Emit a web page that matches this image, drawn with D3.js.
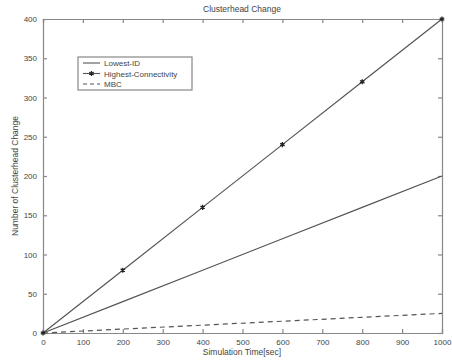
<!DOCTYPE html>
<html>
<head>
<meta charset="utf-8">
<script src="https://cdn.jsdelivr.net/npm/d3@7"></script>
<style>
body { margin: 0; background: #fff; }
text { font-family: "Liberation Sans", Arial, sans-serif; fill: #444; }
</style>
</head>
<body>
<script>
var times = [0, 200, 400, 600, 800, 1000];
var lowestId = [0, 40, 80, 120, 160, 200];
var highestConn = [0, 80, 160, 240, 320, 400];
var mbc = [0, 5, 10, 15, 20, 25];
var xTicks = [0, 100, 200, 300, 400, 500, 600, 700, 800, 900, 1000];
var yTicks = [0, 50, 100, 150, 200, 250, 300, 350, 400];

var width = 452, height = 360;
var margin = {left: 43, right: 10, top: 19, bottom: 27};
var svg = d3.select("body").append("svg").attr("width", width).attr("height", height);

var x = d3.scaleLinear().domain([0, 1000]).range([margin.left, width - margin.right]);
var y = d3.scaleLinear().domain([0, 400]).range([height - margin.bottom, margin.top]);

var frame = "#888";
// axes with inward ticks
var gx = svg.append("g").attr("transform", "translate(0," + y(0) + ")")
  .call(d3.axisBottom(x).tickValues(xTicks).tickSize(-4).tickPadding(6).tickFormat(d3.format("d")));
var gxt = svg.append("g").attr("transform", "translate(0," + y(400) + ")")
  .call(d3.axisTop(x).tickValues(xTicks).tickSize(-4).tickFormat(""));
var gy = svg.append("g").attr("transform", "translate(" + x(0) + ",0)")
  .call(d3.axisLeft(y).tickValues(yTicks).tickSize(-4).tickPadding(6));
var gyr = svg.append("g").attr("transform", "translate(" + x(1000) + ",0)")
  .call(d3.axisRight(y).tickValues(yTicks).tickSize(-4).tickFormat(""));
[gx, gxt, gy, gyr].forEach(function(g) {
  g.selectAll("path, line").attr("stroke", frame).attr("stroke-width", 1.2);
  g.selectAll("text").style("font-size", "8px").attr("fill", "#555");
});

svg.append("text").attr("x", 242).attr("y", 12).attr("text-anchor", "middle")
  .style("font-size", "8.5px").text("Clusterhead  Change");
svg.append("text").attr("x", 242).attr("y", 355).attr("text-anchor", "middle")
  .style("font-size", "8.5px").text("Simulation Time[sec]");
svg.append("text").attr("transform", "translate(18," + y(200) + ") rotate(-90)")
  .attr("text-anchor", "middle").style("font-size", "8.5px").text("Number of  Clusterhead  Change");

var line = d3.line().x(function(d) { return x(d[0]); }).y(function(d) { return y(d[1]); });
function pairs(vals) { return times.map(function(t, i) { return [t, vals[i]]; }); }

svg.append("path").attr("d", line(pairs(lowestId))).attr("fill", "none").attr("stroke", "#555").attr("stroke-width", 1.2);
svg.append("path").attr("d", line(pairs(highestConn))).attr("fill", "none").attr("stroke", "#555").attr("stroke-width", 1.2);
svg.append("path").attr("d", line(pairs(mbc))).attr("fill", "none").attr("stroke", "#555").attr("stroke-width", 1.2)
  .attr("stroke-dasharray", "5,4");

var star = d3.symbol().type(d3.symbolAsterisk).size(18);
svg.selectAll(".mk").data(pairs(highestConn)).enter().append("path")
  .attr("transform", function(d) { return "translate(" + x(d[0]) + "," + y(d[1]) + ")"; })
  .attr("d", star).attr("stroke", "#222").attr("stroke-width", 1.3).attr("fill", "none");

// legend
var legendItems = ["Lowest-ID", "Highest-Connectivity", "MBC"];
var lg = svg.append("g");
lg.append("rect").attr("x", 78).attr("y", 57).attr("width", 114).attr("height", 33)
  .attr("fill", "#fff").attr("stroke", frame).attr("stroke-width", 1.2);
legendItems.forEach(function(name, i) {
  var ly = 63 + i * 10.5;
  lg.append("line").attr("x1", 83).attr("x2", 100).attr("y1", ly).attr("y2", ly)
    .attr("stroke", "#555").attr("stroke-width", 1.1).attr("stroke-dasharray", i === 2 ? "4,3" : null);
  if (i === 1) lg.append("path").attr("transform", "translate(91.5," + ly + ")").attr("d", star)
    .attr("stroke", "#222").attr("stroke-width", 1.3).attr("fill", "none");
  lg.append("text").attr("x", 104).attr("y", ly + 3).style("font-size", "8px").text(name);
});
</script>
</body>
</html>
